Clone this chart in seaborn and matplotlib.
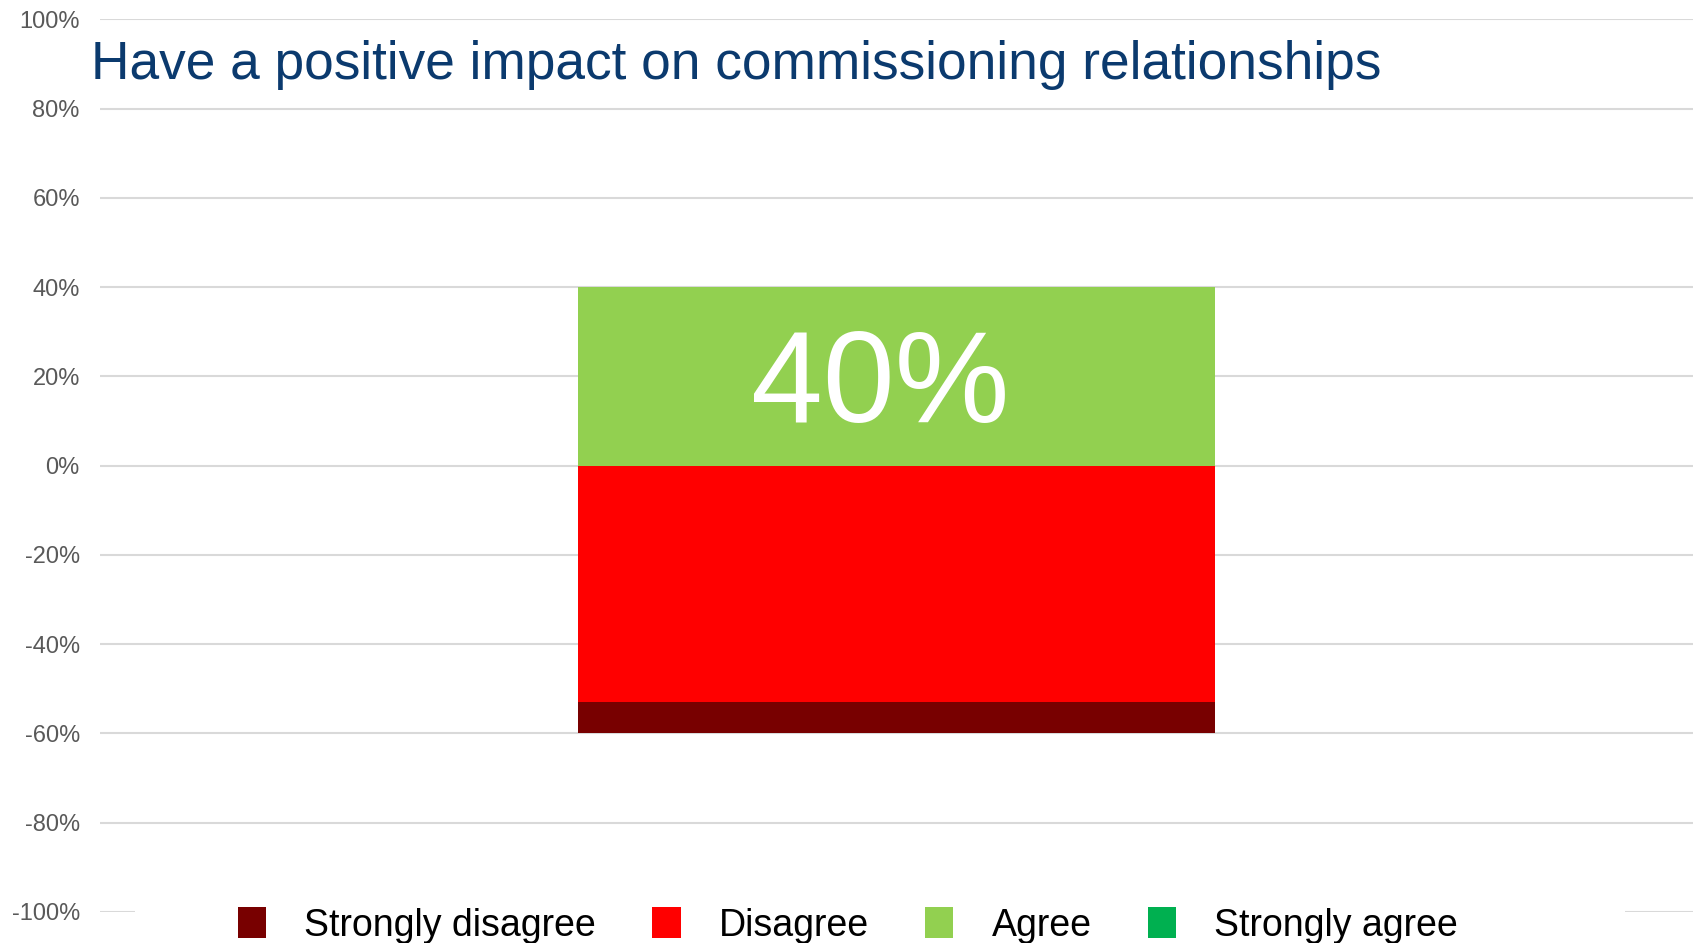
import matplotlib
matplotlib.use("Agg")
import matplotlib.pyplot as plt
from matplotlib.patches import Patch, Rectangle
import seaborn as sns
import pandas as pd

# Survey response shares (percent of respondents)
question = "Have a positive impact on commissioning relationships"
categories = ["Strongly disagree", "Disagree", "Agree", "Strongly agree"]
shares = [7, 53, 40, 0]
colors = ["#780000", "#FF0000", "#92D050", "#00B050"]
ticks = [-100, -80, -60, -40, -20, 0, 20, 40, 60, 80, 100]
label_text = "40%"

sns.set_theme(style="white")
plt.rcParams["font.family"] = ["Liberation Sans", "DejaVu Sans"]

fig = plt.figure(figsize=(16.96, 9.43), dpi=100)
ax = fig.add_axes([100 / 1696, 1 - 912 / 943, 1593 / 1696, (912 - 19.5) / 943])

sd, d, a, sa = shares
# Layers for a diverging stacked bar: outer totals first, inner segments on top
layers = pd.DataFrame({
    "q": [question] * 4,
    "value": [-(sd + d), -d, a + sa, a],
    "color": [colors[0], colors[1], colors[3], colors[2]],
})
for _, row in layers.iterrows():
    sns.barplot(x=[row["q"]], y=[row["value"]], color=row["color"], width=0.4,
                saturation=1, ax=ax, zorder=3, linewidth=0)

ax.set_xlim(-0.5, 0.5)
ax.set_ylim(-100, 100)
ax.set_yticks(ticks)
ax.set_yticklabels([f"{t}%" for t in ticks])
ax.tick_params(axis="y", labelsize=17, labelcolor="#595959", length=0, pad=14.5)
ax.set_xticks([])
ax.set_xlabel("")
ax.set_ylabel("")
ax.set_axisbelow(True)
ax.yaxis.grid(True, color="#D9D9D9", linewidth=1.5)
for s in ax.spines.values():
    s.set_visible(False)

# Value label on the agree segment
ax.annotate(label_text, xy=(0, a / 2), xytext=(-11.5, -8.5), textcoords="offset points",
            ha="center", va="center", color="white", fontsize=93, zorder=4)

# Title
fig.text(91 / 1696, 1 - 65.5 / 943, question, ha="left", va="center",
         fontsize=38.3, color="#0B3A6E")

# Legend area background over the bottom gridline
ax.add_patch(Rectangle((135 / 1696, 0), 1490 / 1696, 60 / 943,
                       transform=fig.transFigure, facecolor="white",
                       edgecolor="none", zorder=2, clip_on=False))

handles = [Patch(facecolor=c, edgecolor="none", label=l) for c, l in zip(colors, categories)]
leg = fig.legend(handles=handles, loc="center", bbox_to_anchor=(0.5, 1 - 925.5 / 943),
                 ncol=4, frameon=False, fontsize=27, handlelength=0.75,
                 handleheight=0.88, handletextpad=1.02, columnspacing=1.5)
for t in leg.get_texts():
    t.set_color("black")

fig.savefig("out.png", dpi=100, facecolor="white")
